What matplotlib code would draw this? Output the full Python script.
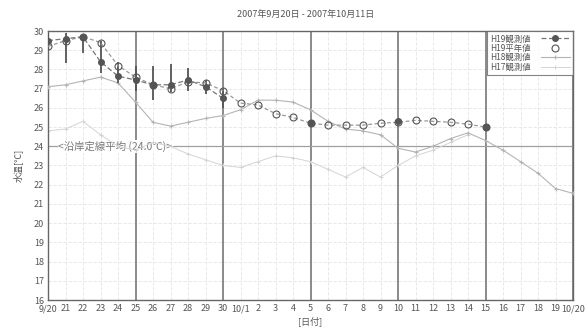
import numpy as np
import matplotlib
matplotlib.use("Agg")
import matplotlib.pyplot as plt

plt.rcParams['font.family'] = ['Noto Sans CJK JP', 'DejaVu Sans']

# x index 0 = 9/20 ... 30 = 10/20
tick_labels = ["9/20", "21", "22", "23", "24", "25", "26", "27", "28", "29", "30",
               "10/1", "2", "3", "4", "5", "6", "7", "8", "9", "10",
               "11", "12", "13", "14", "15", "16", "17", "18", "19", "10/20"]

nan = np.nan
# 平年値 (circles, dashed line) 9/20 - 10/15
avg_vals = [29.2, 29.5, 29.7, 29.4, 28.2, 27.6, 27.2, 27.0, 27.35, 27.3, 26.9,
            26.25, 26.15, 25.7, 25.5, 25.2, 25.1, 25.1, 25.1, 25.2, 25.25,
            25.35, 25.3, 25.25, 25.15, 25.0]

# 観測値 (dark filled markers) with min/max bars
obs_vals = [29.5, 29.6, 29.7, 28.4, 27.65, 27.45, 27.2, 27.2, 27.45, 27.1, 26.5,
            nan, nan, nan, nan, 25.2, nan, nan, nan, nan, 25.3,
            nan, nan, nan, nan, 25.0]
obs_min = [29.0, 28.35, 28.85, 27.8, 27.3, 26.9, 26.4, 26.8, 26.9, 26.7, 26.0]
obs_max = [29.9, 29.9, 29.8, 29.5, 28.4, 28.2, 28.2, 28.3, 28.1, 27.45, 27.0]

# H18 observed (grey)
h18_vals = [27.1, 27.2, 27.4, 27.6, 27.3, 26.3, 25.25, 25.05, 25.25, 25.45, 25.6,
            25.9, 26.4, 26.4, 26.3, 25.9, 25.3, 24.9, 24.8, 24.6, 23.9,
            23.7, 24.0, 24.4, 24.7, 24.3, 23.8, 23.2, 22.6, 21.8, 21.55]

# H17 observed (light grey)
h17_vals = [24.8, 24.9, 25.3, 24.6, 24.0, 23.8, 24.2, 24.0, 23.6, 23.3, 23.0,
            22.9, 23.2, 23.5, 23.4, 23.2, 22.8, 22.4, 22.9, 22.4, 23.0,
            23.5, 23.8, 24.2, 24.6, nan, nan, nan, nan, nan, nan]

ref_temp = 24.0
ref_text = "<沿岸定線平均 (24.0℃)>"

fig = plt.figure(figsize=(5.88, 3.28), dpi=100)
ax = fig.add_axes([48 / 588, 1 - 300 / 328, 525 / 588, 269 / 328])

x = np.arange(len(tick_labels))

# grid
for xi in x:
    if xi % 5 == 0:
        ax.axvline(xi, color="#777777", lw=1.2, zorder=1)
    else:
        ax.axvline(xi, color="#e4e4e4", lw=0.6, ls=(0, (4, 2)), zorder=0)
for yv in range(16, 31):
    ax.axhline(yv, color="#e4e4e4", lw=0.6, ls=(0, (4, 2)), zorder=0)
ax.axhline(ref_temp, color="#a0a0a0", lw=0.9, zorder=1)
ax.text(0.6, ref_temp, ref_text, fontsize=7.5, color="#777777",
        va="center", ha="left", zorder=2,
        bbox=dict(facecolor="white", edgecolor="none", pad=0.5))

ax.plot(x, h17_vals, color="#d4d4d4", lw=0.7, marker="+", ms=3, mew=0.7,
        label="H17観測値", zorder=2)
ax.plot(x, h18_vals, color="#b4b4b4", lw=0.8, marker="+", ms=3, mew=0.8,
        label="H18観測値", zorder=3)

xo = np.arange(len(obs_min))
ax.vlines(xo, obs_min, obs_max, color="#555555", lw=1.3, zorder=4)

ax.plot(np.arange(len(avg_vals)), avg_vals, color="#999999", lw=0.9,
        ls=(0, (3, 2)), zorder=4)
ax.plot(np.arange(len(obs_vals)), obs_vals, color="#777777", lw=0.9,
        ls=(0, (4, 2)), marker="o", ms=4, mfc="#555555", mec="#555555",
        label="H19観測値", zorder=5)
ax.plot(np.arange(len(avg_vals)), avg_vals, ls="none", marker="o", ms=5,
        mfc="none", mec="#555555", mew=0.8, label="H19平年値", zorder=6)

ax.set_xlim(0, 30)
ax.set_ylim(16, 30)
ax.set_xticks(x)
ax.set_xticklabels(tick_labels, fontsize=6.5, color="#555555")
ax.set_yticks(range(16, 31))
ax.set_yticklabels([str(v) for v in range(16, 31)], fontsize=6.5, color="#555555")
ax.tick_params(length=0, pad=3)
for s in ax.spines.values():
    s.set_color("#666666")
    s.set_linewidth(1.0)

ax.set_ylabel("水温[℃]", fontsize=6.5, color="#555555", labelpad=8)
ax.set_xlabel("[日付]", fontsize=6.5, color="#555555", labelpad=2)
fig.text(0.52, 0.955, "2007年9月20日 - 2007年10月11日", fontsize=6.5,
         color="#555555", ha="center", va="center")

h, l = ax.get_legend_handles_labels()
order = [2, 3, 1, 0]
leg = ax.legend([h[i] for i in order], [l[i] for i in order], loc="upper right",
                fontsize=6, markerfirst=False, frameon=True, fancybox=False,
                borderpad=0.4, labelspacing=0.05, handlelength=3.5,
                handletextpad=1.2, borderaxespad=0.0)
leg.get_frame().set_edgecolor("#666666")
leg.get_frame().set_linewidth(0.8)
for t in leg.get_texts():
    t.set_color("#555555")

fig.savefig("out.png", dpi=100)
